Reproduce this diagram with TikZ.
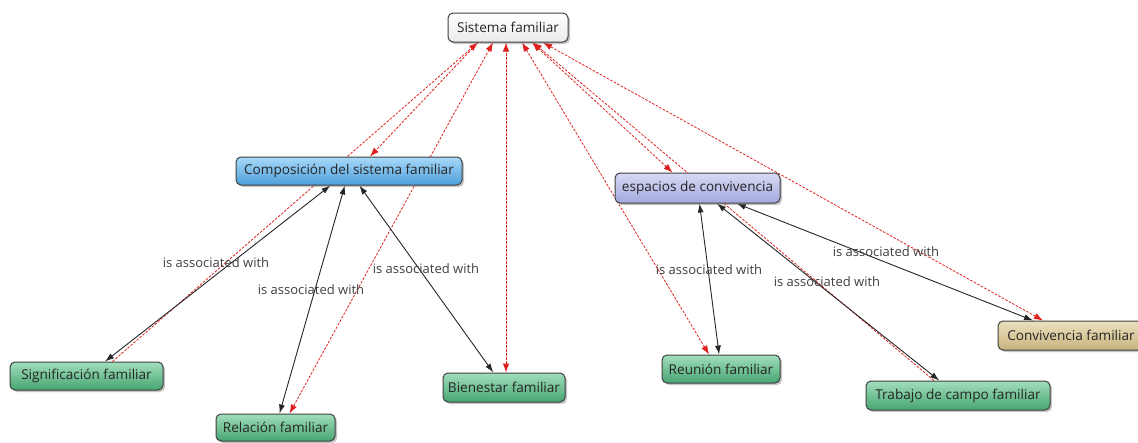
\documentclass[tikz,border=0pt]{standalone}
\usepackage{fontspec}
\setmainfont{Open Sans}
\usetikzlibrary{shadows,arrows.meta,calc,backgrounds}
\definecolor{grtop}{HTML}{A2DEBC}
\definecolor{grbot}{HTML}{46A571}
\definecolor{bltop}{HTML}{A9D9F8}
\definecolor{blbot}{HTML}{4C9EDB}
\definecolor{lvtop}{HTML}{D8DAF5}
\definecolor{lvbot}{HTML}{A3A8DD}
\definecolor{tntop}{HTML}{EBE1BE}
\definecolor{tnbot}{HTML}{C8B37E}
\definecolor{redline}{HTML}{E0201E}
\begin{document}
\begin{tikzpicture}[x=1pt,y=-1pt,
  box/.style={rounded corners=5pt, draw=black!75, line width=1pt,
    drop shadow={opacity=0.45,shadow xshift=2pt,shadow yshift=-2pt},
    minimum height=28pt, inner sep=0pt,
    font=\fontsize{13.6}{15}\selectfont, text=black!85},
  greenbox/.style={box, top color=grtop, bottom color=grbot},
  bluebox/.style={box, top color=bltop, bottom color=blbot},
  lavbox/.style={box, top color=lvtop, bottom color=lvbot},
  tanbox/.style={box, top color=tntop, bottom color=tnbot},
  whitebox/.style={box, top color=white, bottom color=black!8},
  assoc/.style={draw=black!85, line width=0.9pt,
    {Latex[length=9pt,width=6pt]}-{Latex[length=9pt,width=6pt]}},
  redlink/.style={draw=redline, line width=0.8pt, dash pattern=on 2.5pt off 1.5pt},
  rtip/.style={-{Latex[length=9pt,width=6.5pt,fill=redline]}},
  rtips/.style={{Latex[length=9pt,width=6.5pt,fill=redline]}-{Latex[length=9pt,width=6.5pt,fill=redline]}},
  lbl/.style={font=\fontsize{13}{14}\selectfont, text=black!75, inner sep=0pt}
]
\useasboundingbox (0,0) rectangle (1138,442);
\clip (0,0) rectangle (1138,442);

% nodes
\node[whitebox, minimum width=120pt, minimum height=29pt] (sis) at (508,27.5) {Sistema familiar};
\node[bluebox, minimum width=226pt] (comp) at (349,171) {Composición del sistema familiar};
\node[lavbox, minimum width=165pt, minimum height=30pt] (esp) at (697.5,188) {espacios de convivencia};
\node[greenbox, minimum width=153pt] (sig) at (86.5,376) {Significación familiar};
\node[greenbox, minimum width=119pt, minimum height=27pt] (rel) at (275.5,427.5) {Relación familiar};
\node[greenbox, minimum width=122pt, minimum height=29pt] (bien) at (504,387.5) {Bienestar familiar};
\node[greenbox, minimum width=118pt] (reu) at (721,369) {Reunión familiar};
\node[greenbox, minimum width=184pt, minimum height=29pt] (trab) at (958,395.5) {Trabajo de campo familiar};
\node[tanbox, minimum width=146pt, minimum height=29pt] (conv) at (1071,335.5) {Convivencia familiar};

% labels
\node[lbl] (l1) at (216,263) {is associated with};
\node[lbl] (l2) at (311,290) {is associated with};
\node[lbl] (l3) at (426,269) {is associated with};
\node[lbl] (l4) at (709,270) {is associated with};
\node[lbl] (l5) at (827,282) {is associated with};
\node[lbl] (l6) at (886,252) {is associated with};

\begin{scope}[on background layer]
\fill[white] (0,0) rectangle (1138,442);
% red dashed links
\draw[redlink, rtip] ($(sig.north)+(26,0)$) -- ($(sis.south)+(-30,0)$);
\draw[redlink, rtip] ($(sis.south)+(-30,0)$) -- ($(comp.north)+(21,0)$);
\draw[redlink, rtips] ($(rel.north)+(14,0)$) -- ($(sis.south)+(-15,0)$);
\draw[redlink, rtips] ($(bien.north)+(2,0)$) -- ($(sis.south)+(-2,0)$);
\draw[redlink, rtips] ($(reu.north)+(-12,0)$) -- ($(sis.south)+(14,0)$);
\draw[redlink, rtips] ($(sis.south)+(24,0)$) -- ($(esp.north)+(-25,0)$);
\draw[redlink, rtip] ($(trab.north)+(-24,0)$) -- ($(sis.south)+(25,0)$);
\draw[redlink, rtips] ($(conv.north)+(-28,0)$) -- ($(sis.south)+(35,0)$);
% black association links
\draw[assoc] (comp) -- (sig);
\draw[assoc] (comp) -- (rel);
\draw[assoc] (comp) -- (bien);
\draw[assoc] (esp) -- (reu);
\draw[assoc] (esp) -- (trab);
\draw[assoc] (esp) -- (conv);
\end{scope}
\end{tikzpicture}
\end{document}
